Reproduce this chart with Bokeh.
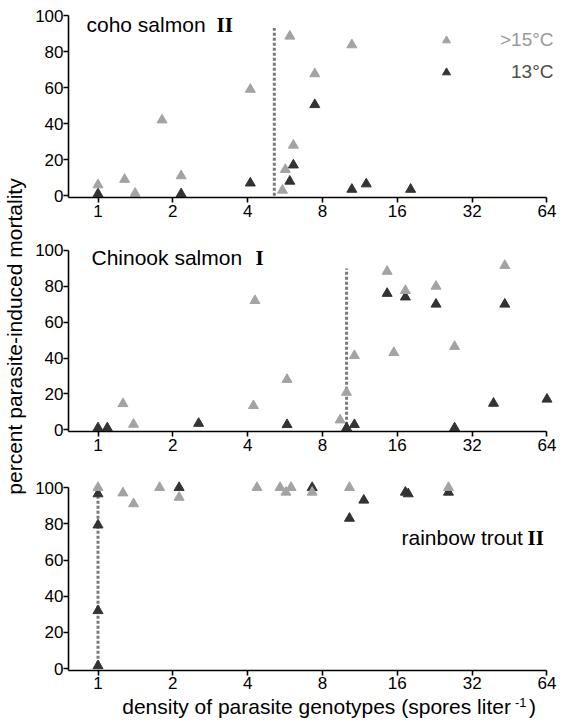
from bokeh.plotting import figure
from bokeh.layouts import column, row
from bokeh.models import Label, Legend, LegendItem, FixedTicker, Range1d, PrintfTickFormatter
from bokeh.embed import file_html
from bokeh.resources import INLINE

# ---------------- data ----------------
x_ticks = [1, 2, 4, 8, 16, 32, 64]
x_tick_labels = ["1", "2", "4", "8", "16", "32", "64"]
y_ticks = [0, 20, 40, 60, 80, 100]

coho_warm_x = [1.0, 1.28, 1.41, 1.81, 2.16, 4.1, 5.52, 5.67, 5.91, 6.11, 7.45, 10.5]
coho_warm_y = [6, 9, 1.3, 42, 11, 59, 3, 14.5, 88.5, 28, 67.6, 83.7]
coho_cold_x = [1.0, 2.16, 4.1, 5.91, 6.11, 7.45, 10.5, 12.0, 18.1]
coho_cold_y = [1, 1, 7, 8, 17, 50.5, 3.5, 6.5, 3.5]
coho_threshold = [5.12]
coho_threshold_top = [93]

chinook_warm_x = [1.26, 1.39, 4.22, 4.28, 5.76, 9.42, 9.99, 10.75, 14.56, 15.49, 17.24, 22.9, 27.2, 43.3]
chinook_warm_y = [14.5, 3, 13.4, 72, 28, 5.4, 20.8, 41.3, 88.3, 43, 77.6, 80, 46.4, 91.6]
chinook_cold_x = [1.0, 1.09, 2.54, 5.76, 10.0, 10.75, 14.56, 17.24, 22.9, 27.2, 39.0, 43.3, 64.0]
chinook_cold_y = [1, 1, 3.5, 2.8, 1, 2.8, 76, 74, 70, 1, 14.7, 70, 17]
chinook_threshold = [10.0]
chinook_threshold_top = [90]

trout_warm_x = [1.0, 1.26, 1.39, 1.77, 2.12, 4.36, 5.4, 5.7, 5.98, 7.27, 10.27, 25.7]
trout_warm_y = [100, 97, 91, 100, 94.6, 100, 100, 97.4, 100, 97.4, 100, 100]
trout_cold_x = [1.0, 1.0, 1.0, 1.0, 2.12, 7.27, 10.27, 11.73, 17.24, 17.7, 25.7]
trout_cold_y = [1.6, 32, 79.3, 96.5, 100, 100, 83, 93, 97.4, 96.5, 97.4]
trout_threshold = [1.0]
trout_threshold_top = [96]

legend_labels = [">15°C", "13°C"]

# ---------------- style / geometry ----------------
LIGHT = "#a3a3a3"
DARK = "#333333"
FONT = "Liberation Sans"
SERIF = "Liberation Serif"

PX_PER_DOUBLING = 74.83
X1_SCREEN = 97.5
FRAME_LEFT = 68
FRAME_W = 487
X_START = 2 ** ((FRAME_LEFT - X1_SCREEN) / PX_PER_DOUBLING)
X_END = 2 ** ((FRAME_LEFT + FRAME_W - X1_SCREEN) / PX_PER_DOUBLING)
Y_START, Y_END = -1, 105
TOTAL_H = 720


def xs(px):
    return 2 ** ((px - X1_SCREEN) / PX_PER_DOUBLING)


def make_panel(frame_top, frame_h, b_top, b_bottom, wx, wy, cx, cy, thr, thr_top, standoff=2):
    p = figure(x_axis_type="log", x_range=Range1d(X_START, X_END),
               y_range=Range1d(Y_START, Y_END),
               frame_width=FRAME_W, frame_height=frame_h,
               min_border_left=38, min_border_right=8,
               min_border_top=b_top, min_border_bottom=b_bottom,
               output_backend="svg", toolbar_location=None)
    p.grid.visible = False
    p.outline_line_color = None
    p.background_fill_color = "white"
    p.border_fill_color = "white"

    p.xaxis.ticker = FixedTicker(ticks=x_ticks, minor_ticks=[])
    p.xaxis.formatter = PrintfTickFormatter(format="%d")
    p.xaxis.major_label_overrides = {t: l for t, l in zip(x_ticks, x_tick_labels)}
    p.xaxis.bounds = (X_START, 64)
    p.yaxis.ticker = FixedTicker(ticks=y_ticks, minor_ticks=[])
    p.yaxis.bounds = (Y_START, 100)

    for ax in p.axis:
        ax.axis_line_color = "black"
        ax.axis_line_width = 1.6
        ax.major_tick_line_color = "black"
        ax.major_tick_line_width = 1.6
        ax.major_tick_out = 5
        ax.major_tick_in = 0
        ax.minor_tick_out = 0
        ax.minor_tick_in = 0
        ax.major_label_text_font = FONT
        ax.major_label_text_font_size = "17px"
        ax.major_label_text_color = "black"
    p.xaxis.major_label_standoff = standoff
    p.yaxis.major_label_standoff = 0

    p.segment(x0=thr, y0=[0] * len(thr), x1=thr, y1=thr_top,
              line_color="#7a7a7a", line_width=3, line_dash="3 2")
    rc = p.scatter(cx, cy, marker="triangle", size=10, fill_color=DARK, line_color=DARK)
    rw = p.scatter(wx, wy, marker="triangle", size=10, fill_color=LIGHT, line_color=LIGHT)

    def ys(py):
        return Y_END - (py - frame_top) * (Y_END - Y_START) / frame_h

    return p, rw, rc, ys


def title(p, ys, left_px, right_px, cy_px, text, numeral):
    p.add_layout(Label(x=xs(left_px), y=ys(cy_px), text=text, text_font=FONT,
                       text_font_size="21px", text_baseline="middle", text_align="left",
                       text_color="black"))
    p.add_layout(Label(x=xs(right_px), y=ys(cy_px), text=numeral, text_font=SERIF,
                       text_font_style="bold", text_font_size="21px",
                       text_baseline="middle", text_align="left", text_color="black"))


# panel 1 : coho   (frame 6..197)
p1, rw1, rc1, ys1 = make_panel(6, 191, 6, 30, coho_warm_x, coho_warm_y,
                               coho_cold_x, coho_cold_y, coho_threshold, coho_threshold_top)
title(p1, ys1, 86, 216, 24, "coho salmon", "II")

for lab, rend, col, standoff, ybox in [(legend_labels[0], rw1, "#999999", 44, 146),
                                       (legend_labels[1], rc1, "#4d4d4d", 55, 114)]:
    lg = Legend(items=[LegendItem(label=lab, renderers=[rend])], location=(368, ybox),
                border_line_color=None, background_fill_alpha=0, padding=0, spacing=0,
                margin=0, glyph_width=20, glyph_height=20, label_height=20,
                label_standoff=standoff, label_text_font=FONT,
                label_text_font_size="19px", label_text_color=col,
                label_text_baseline="middle")
    p1.add_layout(lg)

# panel 2 : chinook   (frame 241..431)
p2, rw2, rc2, ys2 = make_panel(241, 190, 14, 30, chinook_warm_x, chinook_warm_y,
                               chinook_cold_x, chinook_cold_y, chinook_threshold,
                               chinook_threshold_top)
title(p2, ys2, 91, 255, 257, "Chinook salmon", "I")

# panel 3 : rainbow trout   (frame 478..670)
P3_BOTTOM = 25
p3, rw3, rc3, ys3 = make_panel(478, 192, 17, P3_BOTTOM, trout_warm_x, trout_warm_y,
                               trout_cold_x, trout_cold_y, trout_threshold,
                               trout_threshold_top, standoff=1)
title(p3, ys3, 401, 527, 537, "rainbow trout", "II")

# strip under panel 3 for the x-axis title, same log x mapping
STRIP_TOP = 670 + P3_BOTTOM
STRIP_H = TOTAL_H - STRIP_TOP
xt = figure(x_axis_type="log", x_range=Range1d(X_START, X_END), y_range=Range1d(0, STRIP_H),
            frame_width=FRAME_W, frame_height=STRIP_H,
            min_border_left=38, min_border_right=8, min_border_top=0, min_border_bottom=0,
            x_axis_location=None, y_axis_location=None,
            output_backend="svg", toolbar_location=None)
xt.grid.visible = False
xt.outline_line_color = None


def yst(py):
    return TOTAL_H - py


xt.add_layout(Label(x=xs(121.7), y=yst(706), text="density of parasite genotypes (spores liter",
                    text_font=FONT, text_font_size="21px", text_baseline="middle",
                    text_align="left", text_color="black"))
xt.add_layout(Label(x=xs(514.5), y=yst(701.5), text="-1", text_font=FONT,
                    text_font_size="13px", text_baseline="middle", text_align="left",
                    text_color="black"))
xt.add_layout(Label(x=xs(528.5), y=yst(706), text=")", text_font=FONT,
                    text_font_size="21px", text_baseline="middle", text_align="left",
                    text_color="black"))

# y-axis title in a narrow strip
STRIP_W = 30
yl = figure(x_range=Range1d(0, STRIP_W), y_range=Range1d(0, TOTAL_H),
            frame_width=STRIP_W, frame_height=TOTAL_H,
            min_border=0, min_border_left=0, min_border_right=0, min_border_top=0,
            min_border_bottom=0, x_axis_type=None, y_axis_type=None,
            output_backend="svg", toolbar_location=None)
yl.grid.visible = False
yl.outline_line_color = None
yl.add_layout(Label(x=14, y=TOTAL_H - 336, text="percent parasite-induced mortality",
                    angle=90, angle_units="deg", text_font=FONT, text_font_size="21px",
                    text_align="center", text_baseline="middle", text_color="black"))

layout = row(yl, column(p1, p2, p3, xt, spacing=0), spacing=0)

open("out.html", "w").write(file_html(layout, INLINE))
